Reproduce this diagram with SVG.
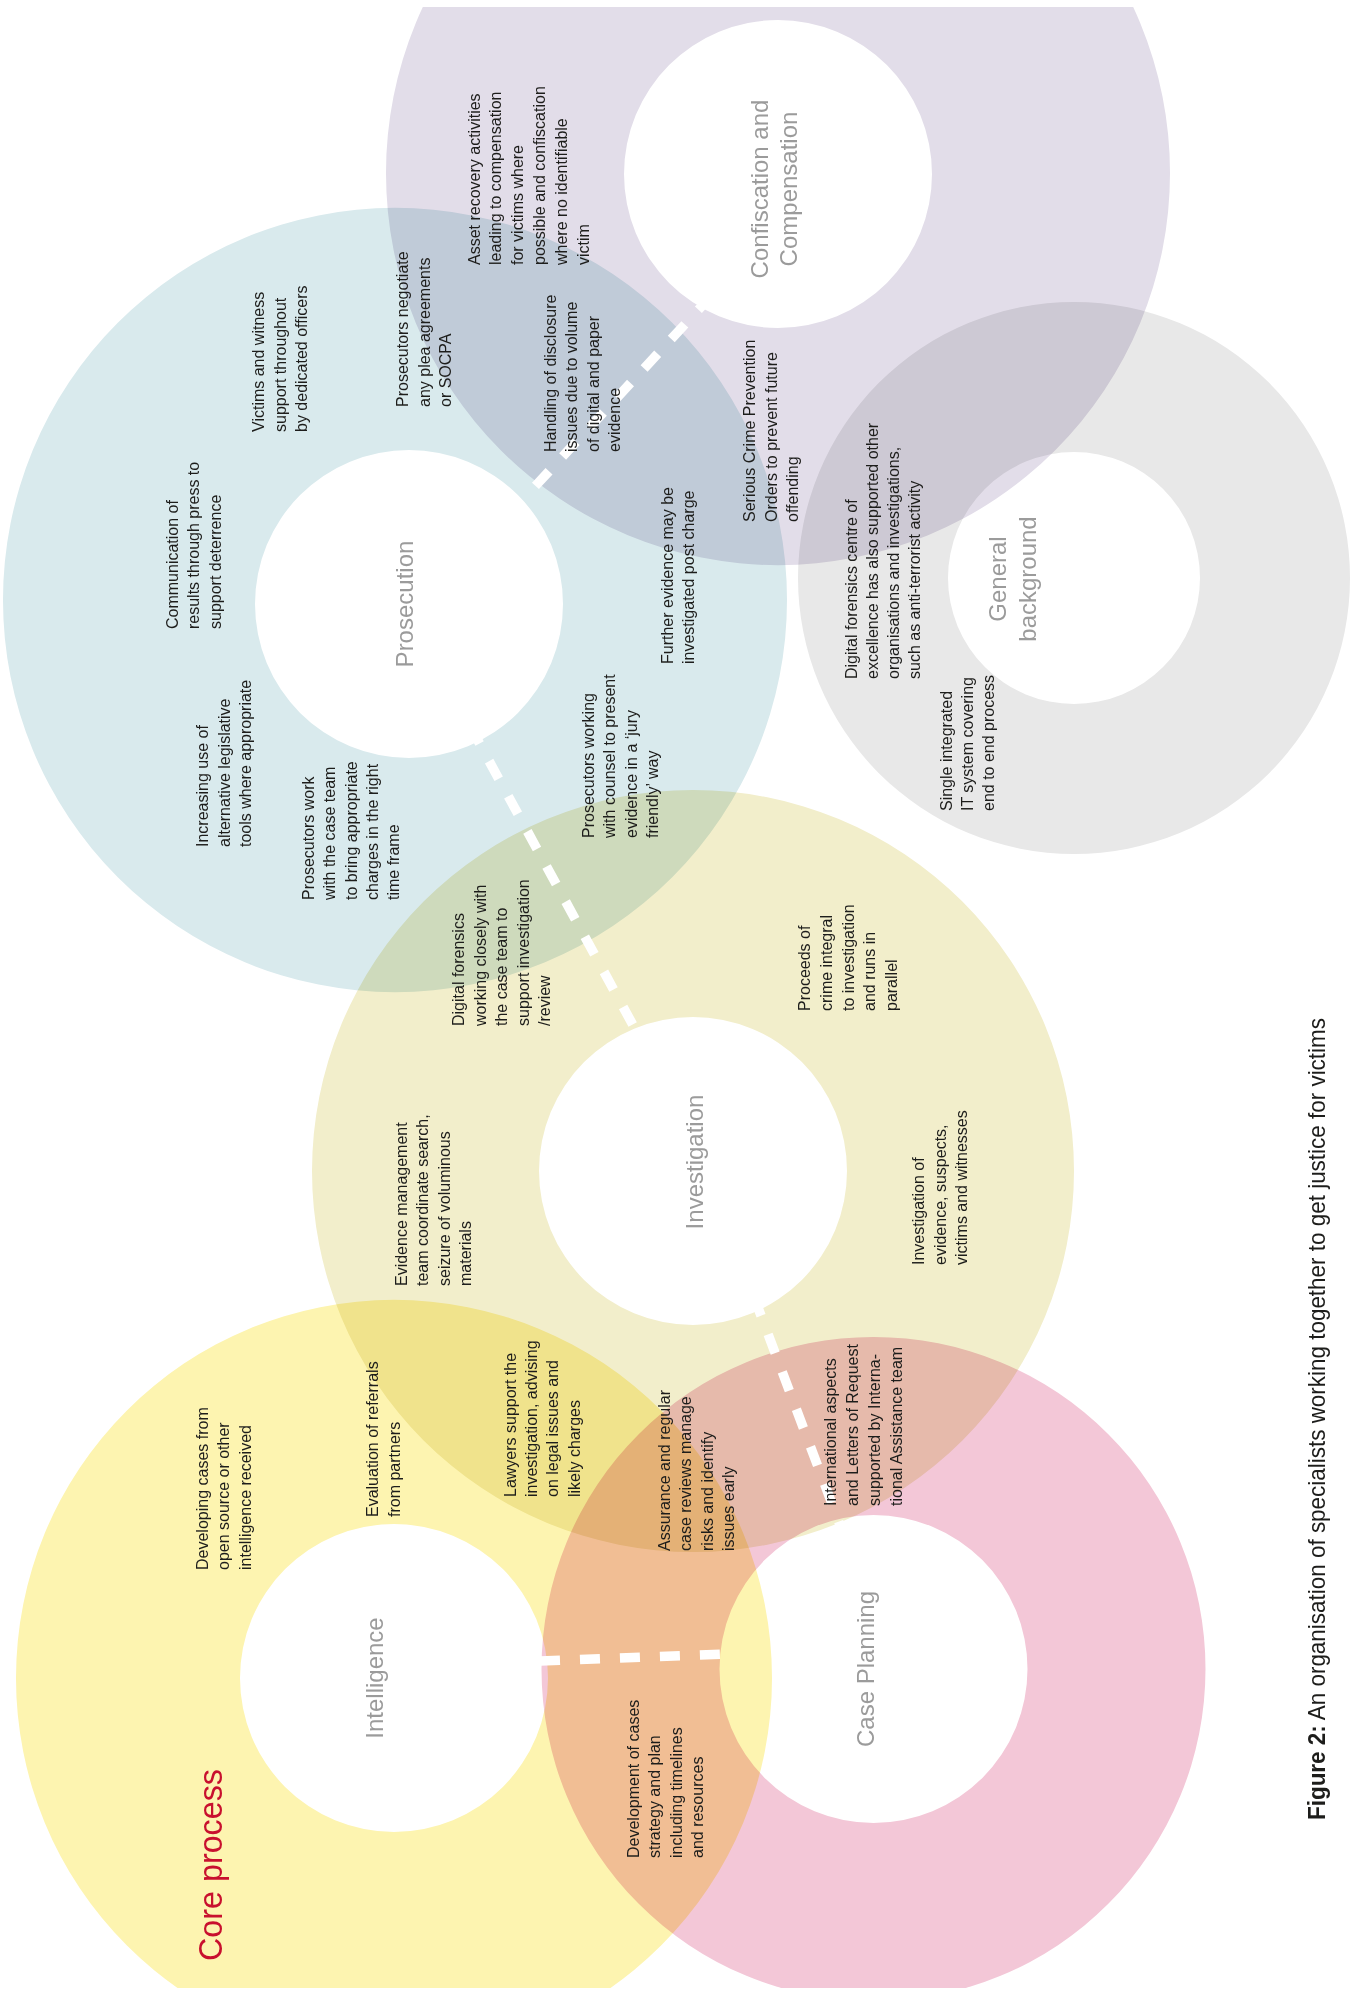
<svg xmlns="http://www.w3.org/2000/svg" width="1362" height="1991" viewBox="0 0 1362 1991">
<style>
  .ring { fill-rule: evenodd; mix-blend-mode: multiply; }
  .title { font-family: "Liberation Sans", Arial, sans-serif; font-size: 24px; fill: #9b9b9b; text-anchor: middle; }
  .note { font-family: "Liberation Sans", Arial, sans-serif; font-size: 16px; fill: #1d1d1b; }
  .dash { stroke: #ffffff; stroke-width: 9.5; stroke-dasharray: 20 20; fill: none; }
  .core { font-family: "Liberation Sans", Arial, sans-serif; font-size: 34px; fill: #c8102e; }
  .caption { font-family: "Liberation Sans", Arial, sans-serif; font-size: 24px; fill: #1d1d1b; }
</style>
<defs>
  <clipPath id="page"><rect x="0" y="7" width="1362" height="1981"/></clipPath>
</defs>
<rect x="0" y="0" width="1362" height="1991" fill="#ffffff"/>

<g clip-path="url(#page)">
  <g id="node-confiscation">
    <path class="ring" fill="#e2dde9" d="M386,173 a392,392 0 1,0 784,0 a392,392 0 1,0 -784,0 Z M624,174 a154,154 0 1,0 308,0 a154,154 0 1,0 -308,0 Z"/>
    <text class="title" transform="translate(768,189) rotate(-90)"><tspan x="0" y="0">Confiscation and</tspan><tspan x="0" y="29">Compensation</tspan></text>
  </g>
  <g id="node-prosecution">
    <path class="ring" fill="#d9eaed" d="M3,600 a392,392 0 1,0 784,0 a392,392 0 1,0 -784,0 Z M255,604 a154,154 0 1,0 308,0 a154,154 0 1,0 -308,0 Z"/>
    <text class="title" transform="translate(413,604) rotate(-90)">Prosecution</text>
  </g>
  <g id="node-general">
    <path class="ring" fill="#e8e8e8" d="M798,578 a276,276 0 1,0 552,0 a276,276 0 1,0 -552,0 Z M948,578 a126,126 0 1,0 252,0 a126,126 0 1,0 -252,0 Z"/>
    <text class="title" transform="translate(1006,579) rotate(-90)"><tspan x="0" y="0">General</tspan><tspan x="0" y="30">background</tspan></text>
  </g>
  <g id="node-investigation">
    <path class="ring" fill="#f2eecb" d="M312,1171 a381,381 0 1,0 762,0 a381,381 0 1,0 -762,0 Z M539,1171 a154,154 0 1,0 308,0 a154,154 0 1,0 -308,0 Z"/>
    <text class="title" transform="translate(703,1162) rotate(-90)">Investigation</text>
  </g>
  <g id="node-intelligence">
    <path class="ring" fill="#fdf4b0" d="M16,1678 a378,378 0 1,0 756,0 a378,378 0 1,0 -756,0 Z M240,1678 a154,154 0 1,0 308,0 a154,154 0 1,0 -308,0 Z"/>
    <text class="title" transform="translate(383,1678) rotate(-90)">Intelligence</text>
  </g>
  <g id="node-caseplanning">
    <path class="ring" fill="#f3c7d7" d="M541.5,1669 a332,332 0 1,0 664,0 a332,332 0 1,0 -664,0 Z M719.5,1669 a154,154 0 1,0 308,0 a154,154 0 1,0 -308,0 Z"/>
    <text class="title" transform="translate(874,1669) rotate(-90)">Case Planning</text>
  </g>
</g>

<g id="connectors">
  <line class="dash" x1="712" y1="295" x2="515" y2="508"/>
  <line class="dash" x1="470" y1="726" x2="640" y2="1038"/>
  <line class="dash" x1="754" y1="1297" x2="840" y2="1525"/>
  <line class="dash" x1="540" y1="1661" x2="728" y2="1654"/>
</g>

<g id="notes" class="note">
  <text transform="translate(177.5,629) rotate(-90)"><tspan x="0" y="0">Communication of</tspan><tspan x="0" dy="21.6">results through press to</tspan><tspan x="0" dy="21.6">support deterrence</tspan></text>
  <text transform="translate(264,432) rotate(-90)"><tspan x="0" y="0">Victims and witness</tspan><tspan x="0" dy="21.6">support throughout</tspan><tspan x="0" dy="21.6">by dedicated officers</tspan></text>
  <text transform="translate(408,407) rotate(-90)"><tspan x="0" y="0">Prosecutors negotiate</tspan><tspan x="0" dy="21.6">any plea agreements</tspan><tspan x="0" dy="21.6">or SOCPA</tspan></text>
  <text transform="translate(208,847) rotate(-90)"><tspan x="0" y="0">Increasing use of</tspan><tspan x="0" dy="21.6">alternative legislative</tspan><tspan x="0" dy="21.6">tools where appropriate</tspan></text>
  <text transform="translate(314,900) rotate(-90)"><tspan x="0" y="0">Prosecutors work</tspan><tspan x="0" dy="21.3">with the case team</tspan><tspan x="0" dy="21.3">to bring appropriate</tspan><tspan x="0" dy="21.3">charges in the right</tspan><tspan x="0" dy="21.3">time frame</tspan></text>
  <text transform="translate(556,452) rotate(-90)"><tspan x="0" y="0">Handling of disclosure</tspan><tspan x="0" dy="21.4">issues due to volume</tspan><tspan x="0" dy="21.4">of digital and paper</tspan><tspan x="0" dy="21.4">evidence</tspan></text>
  <text transform="translate(673,664) rotate(-90)"><tspan x="0" y="0">Further evidence may be</tspan><tspan x="0" dy="21.4">investigated post charge</tspan></text>
  <text transform="translate(755,522) rotate(-90)"><tspan x="0" y="0">Serious Crime Prevention</tspan><tspan x="0" dy="21.5">Orders to prevent future</tspan><tspan x="0" dy="21.5">offending</tspan></text>
  <text transform="translate(594,838) rotate(-90)"><tspan x="0" y="0">Prosecutors working</tspan><tspan x="0" dy="21.4">with counsel to present</tspan><tspan x="0" dy="21.4">evidence in a ‘jury</tspan><tspan x="0" dy="21.4">friendly’ way</tspan></text>
  <text transform="translate(857,679) rotate(-90)"><tspan x="0" y="0">Digital forensics centre of</tspan><tspan x="0" dy="21">excellence has also supported other</tspan><tspan x="0" dy="21">organisations and investigations,</tspan><tspan x="0" dy="21">such as anti-terrorist activity</tspan></text>
  <text transform="translate(951.5,811) rotate(-90)"><tspan x="0" y="0">Single integrated</tspan><tspan x="0" dy="21">IT system covering</tspan><tspan x="0" dy="21">end to end process</tspan></text>
  <text transform="translate(479.5,265) rotate(-90)"><tspan x="0" y="0">Asset recovery activities</tspan><tspan x="0" dy="21.9">leading to compensation</tspan><tspan x="0" dy="21.9">for victims where</tspan><tspan x="0" dy="21.9">possible and confiscation</tspan><tspan x="0" dy="21.9">where no identifiable</tspan><tspan x="0" dy="21.9">victim</tspan></text>
  <text transform="translate(464,1026) rotate(-90)"><tspan x="0" y="0">Digital forensics</tspan><tspan x="0" dy="21.5">working closely with</tspan><tspan x="0" dy="21.5">the case team to</tspan><tspan x="0" dy="21.5">support investigation</tspan><tspan x="0" dy="21.5">/review</tspan></text>
  <text transform="translate(810,1011) rotate(-90)"><tspan x="0" y="0">Proceeds of</tspan><tspan x="0" dy="21.8">crime integral</tspan><tspan x="0" dy="21.8">to investigation</tspan><tspan x="0" dy="21.8">and runs in</tspan><tspan x="0" dy="21.8">parallel</tspan></text>
  <text transform="translate(407,1286) rotate(-90)"><tspan x="0" y="0">Evidence management</tspan><tspan x="0" dy="21.3">team coordinate search,</tspan><tspan x="0" dy="21.3">seizure of voluminous</tspan><tspan x="0" dy="21.3">materials</tspan></text>
  <text transform="translate(923.7,1265) rotate(-90)"><tspan x="0" y="0">Investigation of</tspan><tspan x="0" dy="21.9">evidence, suspects,</tspan><tspan x="0" dy="21.9">victims and witnesses</tspan></text>
  <text transform="translate(378,1517) rotate(-90)"><tspan x="0" y="0">Evaluation of referrals</tspan><tspan x="0" dy="21.8">from partners</tspan></text>
  <text transform="translate(515.5,1497) rotate(-90)"><tspan x="0" y="0">Lawyers support the</tspan><tspan x="0" dy="21.4">investigation, advising</tspan><tspan x="0" dy="21.4">on legal issues and</tspan><tspan x="0" dy="21.4">likely charges</tspan></text>
  <text transform="translate(669.6,1551) rotate(-90)"><tspan x="0" y="0">Assurance and regular</tspan><tspan x="0" dy="21.6">case reviews manage</tspan><tspan x="0" dy="21.6">risks and identify</tspan><tspan x="0" dy="21.6">issues early</tspan></text>
  <text transform="translate(836,1506) rotate(-90)"><tspan x="0" y="0">International aspects</tspan><tspan x="0" dy="22">and Letters of Request</tspan><tspan x="0" dy="22">supported by Interna-</tspan><tspan x="0" dy="22">tional Assistance team</tspan></text>
  <text transform="translate(207.5,1570) rotate(-90)"><tspan x="0" y="0">Developing cases from</tspan><tspan x="0" dy="21.6">open source or other</tspan><tspan x="0" dy="21.6">intelligence received</tspan></text>
  <text transform="translate(638.5,1858) rotate(-90)"><tspan x="0" y="0">Development of cases</tspan><tspan x="0" dy="21.5">strategy and plan</tspan><tspan x="0" dy="21.5">including timelines</tspan><tspan x="0" dy="21.5">and resources</tspan></text>
</g>

<text class="core" transform="translate(222,1961) rotate(-90)" textLength="192" lengthAdjust="spacingAndGlyphs">Core process</text>

<text class="caption" transform="translate(1325,1820) rotate(-90)" textLength="802" lengthAdjust="spacingAndGlyphs"><tspan font-weight="bold">Figure 2:</tspan> An organisation of specialists working together to get justice for victims</text>
</svg>
